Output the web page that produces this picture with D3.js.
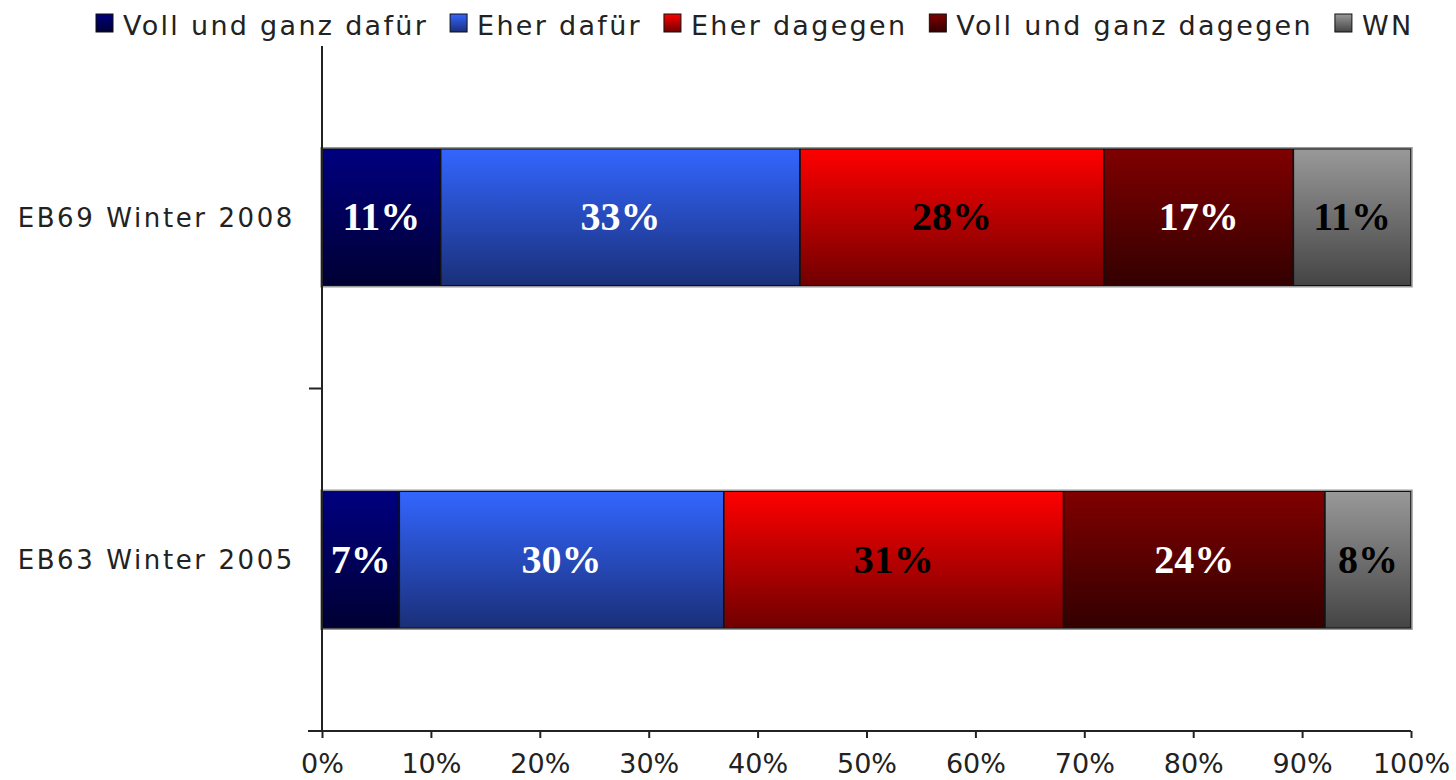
<!DOCTYPE html>
<html>
<head>
<meta charset="utf-8">
<script src="https://cdn.jsdelivr.net/npm/d3@7"></script>
<style>
  body { margin:0; background:#fff; }
  svg text { font-family: "DejaVu Sans", Verdana, sans-serif; }
</style>
</head>
<body>
<div id="plot"></div>
<script>
// data
var categories = ['EB69 Winter 2008', 'EB63 Winter 2005'];
var series = ['Voll und ganz dafür', 'Eher dafür', 'Eher dagegen', 'Voll und ganz dagegen', 'WN'];
var values2008 = [10.9, 33.0, 27.9, 17.4, 10.8];
var values2005 = [7.1, 29.8, 31.2, 24.0, 7.9];
var xTicks = [0, 10, 20, 30, 40, 50, 60, 70, 80, 90, 100];

// gradient colours, top -> bottom
var colTop = ['#000080', '#3366ff', '#ff0000', '#800000', '#999999'];
var colBot = ['#000033', '#1a2f78', '#700000', '#330000', '#444444'];
var labelCol = ['#fff', '#fff', '#000', '#fff', '#000'];

var margin = {t:46, r:45, b:49, l:322};
var W = 1456, H = 780;
var width = W - margin.l - margin.r,
    height = H - margin.t - margin.b;

var svg = d3.select('#plot').append('svg')
    .attr('width', W).attr('height', H);

var defs = svg.append('defs');
series.forEach(function(s, i){
    var g = defs.append('linearGradient')
        .attr('id', 'grad' + i)
        .attr('x1', 0).attr('y1', 0).attr('x2', 0).attr('y2', 1);
    g.append('stop').attr('offset', '0%').attr('stop-color', colTop[i]);
    g.append('stop').attr('offset', '100%').attr('stop-color', colBot[i]);
});

var plot = svg.append('g')
    .attr('transform', 'translate(' + margin.l + ',' + margin.t + ')');

var x = d3.scaleLinear().domain([0, 100]).range([0, width]);
var y = d3.scaleBand().domain(categories).range([0, height])
    .paddingInner(0.6).paddingOuter(0.3);

// stack the rows
var rows = [values2008, values2005].map(function(vals, r){
    var acc = 0;
    return vals.map(function(v, i){
        var d = {cat: categories[r], idx: i, v: v, x0: acc, x1: acc + v};
        acc += v;
        return d;
    });
});

rows.forEach(function(row){
    var g = plot.append('g');
    g.selectAll('rect.seg')
        .data(row)
        .enter().append('rect')
        .attr('class', 'seg')
        .attr('x', function(d){ return x(d.x0); })
        .attr('y', function(d){ return y(d.cat); })
        .attr('width', function(d){ return x(d.x1) - x(d.x0); })
        .attr('height', y.bandwidth())
        .style('fill', function(d){ return 'url(#grad' + d.idx + ')'; })
        .style('stroke', '#111')
        .style('stroke-width', 1.5);
    // grey outline round the whole bar
    g.append('rect')
        .attr('x', x(0) - 1)
        .attr('y', y(row[0].cat) - 1)
        .attr('width', x(100) - x(0) + 2)
        .attr('height', y.bandwidth() + 2)
        .style('fill', 'none')
        .style('stroke', '#999')
        .style('stroke-width', 1.5);
    g.selectAll('text.val')
        .data(row)
        .enter().append('text')
        .attr('class', 'val')
        .attr('x', function(d){ return (x(d.x0) + x(d.x1)) / 2; })
        .attr('y', y(row[0].cat) + y.bandwidth() / 2 + 13)
        .attr('text-anchor', 'middle')
        .style('font-family', '"Liberation Serif", serif')
        .style('font-weight', 'bold')
        .style('font-size', '40px')
        .style('fill', function(d){ return labelCol[d.idx]; })
        .text(function(d){ return Math.round(d.v) + '%'; });
});

// x axis
var xAxis = plot.append('g')
    .attr('transform', 'translate(0,' + height + ')')
    .call(d3.axisBottom(x).tickValues(xTicks).tickSize(7).tickPadding(16)
        .tickFormat(function(d){ return d + '%'; }));
xAxis.select('.domain').attr('d', 'M' + (-14) + ',0H' + width).style('stroke', '#222').style('stroke-width', 2);
xAxis.selectAll('.tick line').style('stroke', '#222').style('stroke-width', 2);
xAxis.selectAll('.tick text')
    .style('font-family', '"DejaVu Sans", sans-serif')
    .style('font-size', '27px')
    .style('fill', '#222');

// y axis
var yAxis = plot.append('g')
    .call(d3.axisLeft(y).tickSize(0).tickPadding(27));
yAxis.select('.domain').attr('d', 'M0,0V' + height).style('stroke', '#222').style('stroke-width', 2);
yAxis.selectAll('.tick text')
    .attr('dy', '0.36em')
    .style('font-family', '"DejaVu Sans", sans-serif')
    .style('font-size', '26px')
    .style('letter-spacing', '2.6px')
    .style('fill', '#222');
// tick between the two categories
plot.append('line')
    .attr('x1', -13).attr('x2', 0)
    .attr('y1', y.step() * (1 + y.paddingOuter()) - y.step() * y.paddingInner() / 2)
    .attr('y2', y.step() * (1 + y.paddingOuter()) - y.step() * y.paddingInner() / 2)
    .style('stroke', '#222').style('stroke-width', 2);

// legend
var legend = svg.append('g').attr('transform', 'translate(96,0)');
var lx = 0;
series.forEach(function(s, i){
    var item = legend.append('g').attr('transform', 'translate(' + lx + ',0)');
    item.append('rect')
        .attr('x', 0).attr('y', 14).attr('width', 17).attr('height', 18)
        .style('fill', 'url(#grad' + i + ')')
        .style('stroke', '#111').style('stroke-width', 1);
    var t = item.append('text')
        .attr('x', 27).attr('y', 35)
        .style('font-size', '27px')
        .style('letter-spacing', '2.3px')
        .style('fill', '#222')
        .text(s);
    lx += 27 + t.node().getComputedTextLength() + 22;
});
</script>
</body>
</html>
